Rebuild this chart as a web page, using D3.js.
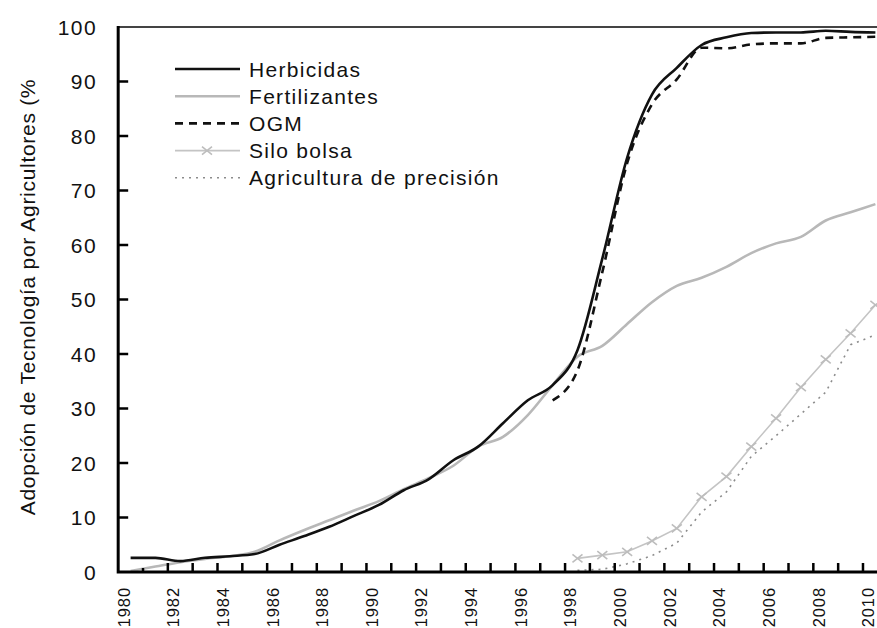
<!DOCTYPE html>
<html lang="es">
<head>
<meta charset="utf-8">
<title>Adopción de tecnología por agricultores</title>
<script src="https://d3js.org/d3.v7.min.js"></script>
<style>
  body { margin: 0; background: #fff; }
  svg { display: block; font-family: "Liberation Sans", Arial, Helvetica, sans-serif; }
</style>
</head>
<body>
<div id="chart"></div>
<script>
// years on the category axis
var years = d3.range(1980, 2011);
var yTicks = [0, 10, 20, 30, 40, 50, 60, 70, 80, 90, 100];
var xLabelYears = [1980, 1982, 1984, 1986, 1988, 1990, 1992, 1994, 1996, 1998, 2000, 2002, 2004, 2006, 2008, 2010];

// series values (% of farmers)
var herbicidas = [2.6, 2.6, 2.0, 2.6, 2.9, 3.3, 5.0, 6.6, 8.3, 10.3, 12.3, 15.0, 17.0, 20.5, 23.0, 27.3,
                  31.5, 34.3, 40.7, 57.5, 76.0, 87.6, 92.5, 96.7, 98.1, 98.9, 99.0, 99.0, 99.3, 99.1, 99.0];
var fertilizantes = [0.2, 1.0, 1.8, 2.4, 2.9, 3.7, 5.8, 7.7, 9.5, 11.3, 13.0, 15.2, 17.2, 19.5, 23.0, 24.8,
                     28.8, 34.3, 39.5, 41.5, 45.5, 49.5, 52.5, 54.0, 56.0, 58.5, 60.3, 61.5, 64.5, 66.0, 67.5];
var ogmYears = d3.range(1997, 2011);
var ogm = [31.5, 37.0, 55.0, 75.0, 85.8, 90.4, 96.2, 96.1, 96.8, 97.0, 97.0, 98.0, 98.1, 98.2];
var siloYears = d3.range(1998, 2011);
var siloBolsa = [2.5, 3.1, 3.7, 5.7, 8.0, 13.8, 17.5, 23.0, 28.2, 33.9, 39.0, 43.8, 49.0];
var precYears = d3.range(1998, 2011);
var precision = [0.3, 0.5, 1.5, 3.0, 5.3, 11.0, 14.7, 21.2, 25.0, 29.0, 33.0, 41.7, 43.5];

var legendNames = ["Herbicidas", "Fertilizantes", "OGM", "Silo bolsa", "Agricultura de precisión"];

var width = 877, height = 628;
var svg = d3.select("#chart").append("svg")
    .attr("width", width)
    .attr("height", height);

// year centres; one category per year, ticks between them
var x = d3.scaleLinear().domain([1980, 2010]).range([130.6, 875.4]);
var y = d3.scaleLinear().domain([0, 100]).range([572, 27]);
var step = x(1981) - x(1980);
var left = x(1980) - step / 2;
var right = x(2010) + step / 2;

// frame: top line
svg.append("line")
    .attr("x1", left).attr("x2", right)
    .attr("y1", y(100)).attr("y2", y(100))
    .attr("stroke", "#444").attr("stroke-width", 2);

svg.selectAll(".ylab")
    .data(yTicks)
    .enter().append("text")
    .attr("class", "ylab")
    .attr("x", 97)
    .attr("y", function(d) { return y(d); })
    .attr("dy", "0.36em")
    .attr("text-anchor", "end")
    .attr("font-size", 21)
    .attr("letter-spacing", 1.4)
    .attr("fill", "#111")
    .text(function(d) { return d; });

svg.selectAll(".xlab")
    .data(xLabelYears)
    .enter().append("text")
    .attr("class", "xlab")
    .attr("transform", function(d) { return "translate(" + (x(d) - 7) + ",587) rotate(-90)"; })
    .attr("dy", "0.36em")
    .attr("text-anchor", "end")
    .attr("font-size", 16.5)
    .attr("letter-spacing", 0.9)
    .attr("fill", "#111")
    .text(function(d) { return d; });

// y axis title
svg.append("text")
    .attr("transform", "translate(27,297) rotate(-90)")
    .attr("dy", "0.36em")
    .attr("text-anchor", "middle")
    .attr("font-size", 21)
    .attr("letter-spacing", 0.7)
    .attr("fill", "#111")
    .text("Adopción de Tecnología por Agricultores (%");

// lines
var smooth = d3.line()
    .x(function(d) { return x(d[0]); })
    .y(function(d) { return y(d[1]); })
    .curve(d3.curveMonotoneX);
var straight = d3.line()
    .x(function(d) { return x(d[0]); })
    .y(function(d) { return y(d[1]); });

function pairs(xs, vs) { return xs.map(function(yr, i) { return [yr, vs[i]]; }); }

var styles = [
  { stroke: "#b8b8b8", width: 2.6, dash: null },
  { stroke: "#111", width: 2.6, dash: null },
  { stroke: "#111", width: 2.6, dash: "8,6" },
  { stroke: "#c4c4c4", width: 1.6, dash: null },
  { stroke: "#8c8c8c", width: 1.6, dash: "2,5" }
];

svg.append("path").datum(pairs(years, fertilizantes))
    .attr("d", smooth).attr("fill", "none")
    .attr("stroke", styles[0].stroke).attr("stroke-width", styles[0].width);
svg.append("path").datum(pairs(precYears, precision))
    .attr("d", straight).attr("fill", "none")
    .attr("stroke", styles[4].stroke).attr("stroke-width", styles[4].width)
    .attr("stroke-dasharray", styles[4].dash);
svg.append("path").datum(pairs(siloYears, siloBolsa))
    .attr("d", straight).attr("fill", "none")
    .attr("stroke", styles[3].stroke).attr("stroke-width", styles[3].width);
svg.append("path").datum(pairs(ogmYears, ogm))
    .attr("d", smooth).attr("fill", "none")
    .attr("stroke", styles[2].stroke).attr("stroke-width", styles[2].width)
    .attr("stroke-dasharray", styles[2].dash);
svg.append("path").datum(pairs(years, herbicidas))
    .attr("d", smooth).attr("fill", "none")
    .attr("stroke", styles[1].stroke).attr("stroke-width", styles[1].width);

var cross = "M-5,-4L5,4M-5,4L5,-4";
svg.selectAll(".silo")
    .data(pairs(siloYears, siloBolsa))
    .enter().append("path")
    .attr("class", "silo")
    .attr("transform", function(d) { return "translate(" + x(d[0]) + "," + y(d[1]) + ")"; })
    .attr("d", cross)
    .attr("stroke", "#bdbdbd").attr("stroke-width", 1.6).attr("fill", "none");

// axes drawn last so the ticks sit on top: ticks point inward
var axisTicks = yTicks.slice(1, -1).map(function(v) {
  return "M" + left + "," + y(v) + "h10";
}).concat(years.slice(0, -1).map(function(yr, i) {
  return "M" + x(yr + 0.5) + "," + y(0) + "v" + (i === 0 ? -4 : -9);
}));
svg.append("path")
    .attr("d", axisTicks.join(""))
    .attr("fill", "none")
    .attr("stroke", "#000")
    .attr("stroke-width", 2.5);

svg.append("path")
    .attr("d", "M" + left + "," + (y(100) - 1) + "V" + y(0) + "H" + right)
    .attr("fill", "none")
    .attr("stroke", "#000")
    .attr("stroke-width", 3);

// legend
var legendOrder = [1, 0, 2, 3, 4];
var legend = svg.append("g").attr("transform", "translate(175,69)");
var row = legend.selectAll("g")
    .data(legendNames)
    .enter().append("g")
    .attr("transform", function(d, i) { return "translate(0," + (i * 27.2) + ")"; });
row.append("line")
    .attr("x1", 0).attr("x2", 65)
    .attr("stroke", function(d, i) { return styles[legendOrder[i]].stroke; })
    .attr("stroke-width", function(d, i) { return styles[legendOrder[i]].width; })
    .attr("stroke-dasharray", function(d, i) { return styles[legendOrder[i]].dash; });
row.filter(function(d, i) { return i === 3; })
    .append("path")
    .attr("transform", "translate(32,0)")
    .attr("d", cross)
    .attr("stroke", "#bdbdbd").attr("stroke-width", 1.6).attr("fill", "none");
row.append("text")
    .attr("x", 74)
    .attr("dy", "0.36em")
    .attr("font-size", 21)
    .attr("letter-spacing", 1.3)
    .attr("fill", "#111")
    .text(function(d) { return d; });
</script>
</body>
</html>
